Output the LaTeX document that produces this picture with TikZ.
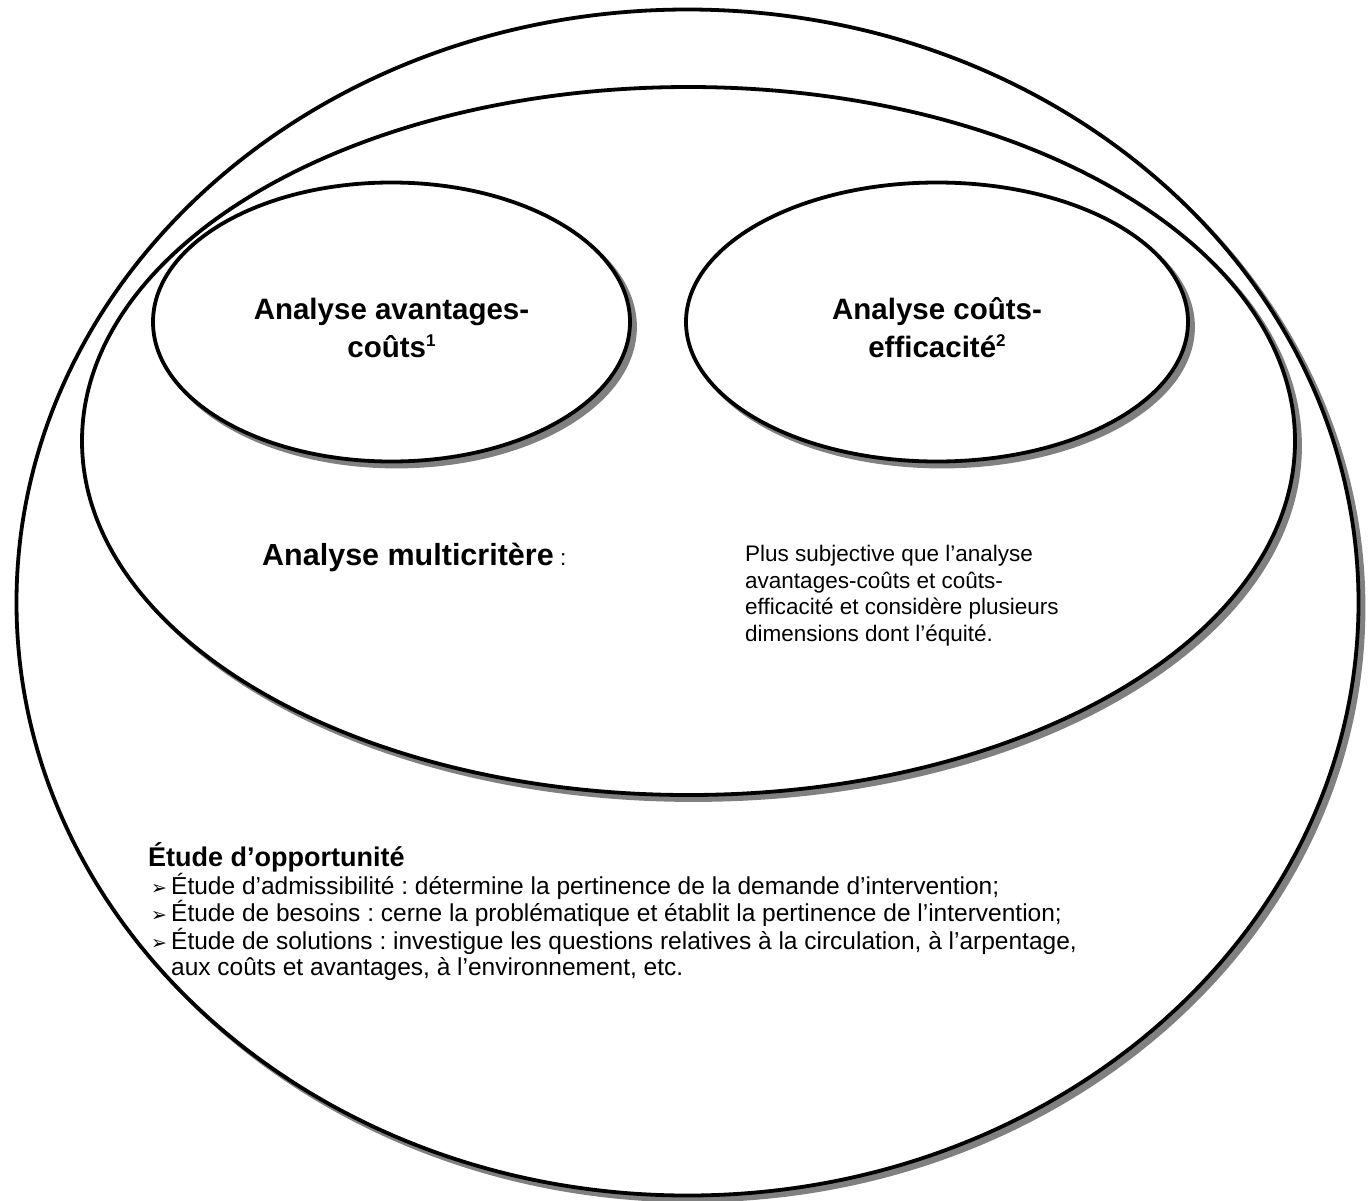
\documentclass[tikz,border=0pt]{standalone}
\usepackage{fontspec}
\setmainfont{Liberation Sans}
\newfontfamily\symb{DejaVu Sans}
\usetikzlibrary{shapes.geometric}
\frenchspacing
\newcommand{\puce}{{\symb\fontsize{19}{19}\selectfont ➢}\,}
\newcommand{\grand}{\fontsize{29.5}{38}\selectfont\bfseries}
\newcommand{\moyen}{\fontsize{30.5}{38}\selectfont\bfseries}
\newcommand{\entete}{\fontsize{27}{30}\selectfont\bfseries}
\newcommand{\petit}{\fontsize{22.5}{26.5}\selectfont}
\newcommand{\liste}{\fontsize{24.5}{26}\selectfont}
\newcommand{\appel}[1]{\raisebox{11pt}{\fontsize{17}{17}\selectfont #1}}
\tikzset{
  bulle/.style={ellipse, draw, line width=3.8pt, fill=white, inner sep=0pt,
    preaction={draw=black!50, fill=black!50, transform canvas={shift={(5pt,-5pt)}}}},
  titre/.style={font=\grand, align=center, inner sep=0pt},
  texte/.style={align=left, inner sep=0pt}
}

\begin{document}
\begin{tikzpicture}[x=1pt,y=-1pt]
  \useasboundingbox (0,0) rectangle (1370,1200);
  \node[bulle, minimum width=1342pt, minimum height=1186pt] (opportunite) at (687.5,602.5) {};
  \node[bulle, minimum width=1213pt, minimum height=708pt] (multi) at (688.5,441) {};
  \node[bulle, minimum width=477pt, minimum height=279pt] (ac) at (391.5,322) {};
  \node[bulle, minimum width=502pt, minimum height=279pt] (ce) at (937,322) {};
  \node[titre, yshift=-5.5pt] (actexte) at (ac) {Analyse avantages-\\coûts\appel{1}};
  \node[titre, yshift=-5.5pt] (cetexte) at (ce) {Analyse coûts-\\efficacité\appel{2}};
  \node[anchor=base west, inner sep=0pt] (multititre) at (262,565) {{\moyen Analyse multicritère}\petit\ :};
  \node[texte, font=\petit, anchor=north west] (multitexte) at (745,545) {Plus subjective que l’analyse\\avantages-coûts et coûts-\\efficacité et considère plusieurs\\dimensions dont l’équité.};
  \node[anchor=base west, inner sep=0pt, font=\entete] (etude) at (148,866) {Étude d’opportunité};
  \node[texte, font=\liste, anchor=north west] (etapes) at (151,873) {\puce Étude d’admissibilité : détermine la pertinence de la demande d’intervention;\\
    \puce Étude de besoins : cerne la problématique et établit la pertinence de l’intervention;\\
    \puce Étude de solutions : investigue les questions relatives à la circulation, à l’arpentage,\\
    \phantom{\puce}aux coûts et avantages, à l’environnement, etc.};
\end{tikzpicture}
\end{document}
